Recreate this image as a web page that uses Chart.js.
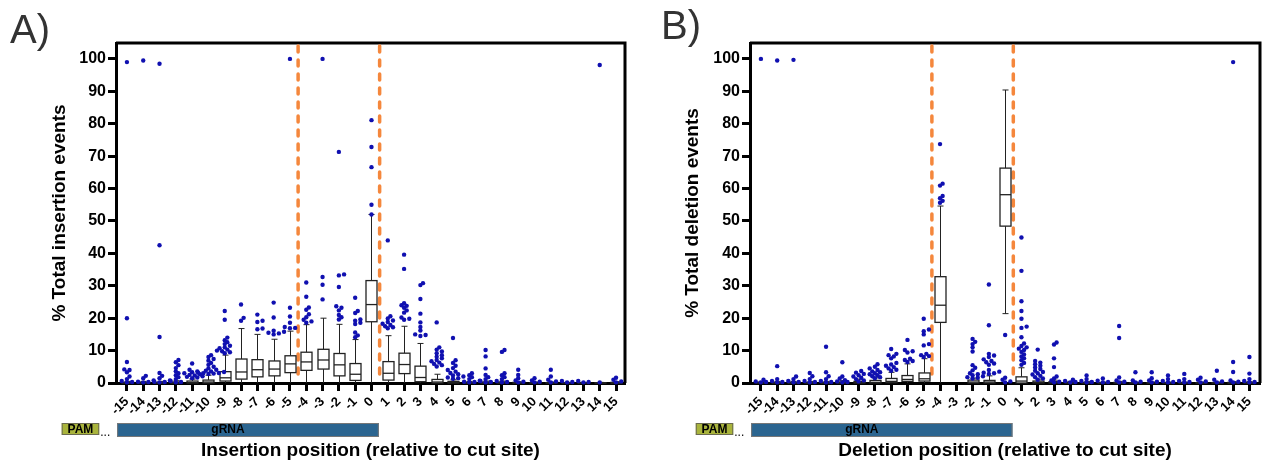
<!DOCTYPE html>
<html>
<head>
<meta charset="utf-8">
<script src="https://cdn.jsdelivr.net/npm/chart.js@4.4.0/dist/chart.umd.min.js"></script>
<style>
  html, body { margin: 0; padding: 0; background: #fff; }
  #wrap { position: relative; width: 1267px; height: 462px; overflow: hidden; }
  canvas { position: absolute; top: 0; }
  #insChart { left: 0; }
  #delChart { left: 633px; }
</style>
</head>
<body>
<div id="wrap">
  <canvas id="insChart" width="633" height="462"></canvas>
  <canvas id="delChart" width="634" height="462"></canvas>
</div>
<script>
// positions relative to cut site
const positions = [-15, -14, -13, -12, -11, -10, -9, -8, -7, -6, -5, -4, -3, -2, -1, 0,
  1, 2, 3, 4, 5, 6, 7, 8, 9, 10, 11, 12, 13, 14, 15]

// insertion box stats (% of total insertion events)
const insLow = [0, 0, 0, 0, 0, 0, 0, 0, 0, 0, 0, 0, 0, 0, 0, 0, 0, 0, 0, 0, 0, 0, 0, 0, 0, 0, 0, 0, 0, 0, 0]
const insQ1 = [0, 0, 0, 0, 0, 0, 0.6, 1.2, 1.9, 2.2, 3.2, 3.9, 4.3, 2.2, 0.8, 18.9, 0.9, 2.9, 0.4, 0, 0, 0, 0, 0, 0, 0, 0, 0, 0, 0, 0]
const insMed = [0, 0, 0, 0, 0.1, 0.3, 1.6, 3.4, 4.1, 4.3, 5.9, 6.5, 7.1, 5.6, 2.7, 24.2, 3.0, 5.7, 1.7, 0.3, 0.1, 0, 0, 0, 0, 0, 0, 0, 0, 0, 0]
const insQ3 = [0.2, 0.2, 0.2, 0.3, 0.6, 0.9, 3.5, 7.4, 7.2, 6.8, 8.4, 9.5, 10.4, 9.1, 6.0, 31.6, 6.6, 9.2, 5.2, 1.1, 0.5, 0.2, 0.3, 0.3, 0.2, 0.1, 0.1, 0.1, 0.1, 0.1, 0.2]
const insHigh = [0.5, 0.5, 0.5, 0.7, 1.2, 2.4, 8.6, 16.8, 15, 13.5, 16, 18, 20, 18.1, 13.4, 52, 14.6, 17.5, 12.2, 2.7, 1, 0.5, 0.6, 0.6, 0.4, 0.3, 0.3, 0.2, 0.2, 0.2, 0.4]
const insOutliers = [
  [99, 20, 6.5, 4.2, 4, 3.3, 2, 1.2, 0.6, 0.3, 0.2],
  [99.5, 2.2, 1.5, 0.8, 0.4, 0.3, 0.2],
  [98.5, 42.5, 14.2, 3.1, 2.2, 1.5, 0.8, 0.4, 0.3, 0.2],
  [7.1, 6.4, 5.5, 4.6, 3.6, 3, 2.4, 1.8, 1.2, 0.6, 0.3, 0.2],
  [6, 4.1, 3.6, 3.3, 3, 2.7, 2.5, 2.3, 2.1, 1.9, 1.7, 1.5],
  [8.6, 8, 7.4, 6.9, 6.2, 5.6, 5, 4.5, 4.1, 3.8, 3.6, 3.4, 3.2, 3.1, 3, 2.9, 2.8],
  [22.2, 19.5, 14, 13.2, 12.6, 12, 11.5, 11, 10.7, 10.3, 10, 9.8, 9.5, 9.2],
  [24.2, 20.1, 19.2],
  [21.1, 19.2, 18.8, 16.8, 16.6],
  [24.8, 20.2, 16.1, 15.8, 15.5, 15.3, 15],
  [100, 23.2, 20.5, 18.6, 17.3, 17, 16.9],
  [31, 26.6, 23.3, 22.6, 21.2, 20.3, 19.5, 19, 18.6],
  [100, 32.7, 30.3, 25.8],
  [71.3, 33.5, 33.2, 29.6, 23.7, 23.2, 22.4, 21, 20.3, 19.6],
  [26.3, 22.2, 21.6, 19.6, 19.2, 18.6, 18.2, 15.6, 14.7, 14.1],
  [81.1, 72.8, 66.6, 55, 52],
  [44, 20.6, 19.9, 19.3, 18.8, 18.3, 17.9, 17.5, 17.2, 16.9],
  [39.6, 35.2, 24.6, 24, 23.8, 23.2, 22.4, 21.7, 20.2, 19.8, 19.5],
  [30.8, 30.2, 25.9, 21.4, 18.7, 17.3, 16.2, 15, 14.8, 14.5],
  [18.7, 11, 10.3, 9.7, 9.2, 8.6, 8.1, 7.6, 7.1, 6.7, 6.3, 5.9, 5.5, 5.1],
  [13.9, 7, 6.2, 5.3, 4.6, 4, 3.5, 3.1, 2.7, 2.3, 2, 1.7, 1.5, 1.3],
  [3, 2.4, 1.8, 1.2, 0.7, 0.4, 0.3, 0.2],
  [10.2, 8.2, 4.5, 2.5, 1.8, 1.2, 0.6, 0.3, 0.2],
  [10.2, 9.6, 3, 2.4, 1.8, 1.2, 0.6, 0.3, 0.2],
  [4.1, 2.5, 1.5, 0.8, 0.4, 0.2],
  [1.5, 0.8, 0.4, 0.2],
  [4.1, 2, 1, 0.5, 0.2],
  [0.6, 0.3, 0.2],
  [0.6, 0.3, 0.2],
  [98.1, 0.2],
  [1.6, 1, 0.5, 0.2],
]

// deletion box stats (% of total deletion events), null = no data
const delLow = [0, 0, 0, 0, 0, 0, 0, 0, 0, 0, 0, 0, null, 0, 0, 21.4, 0, 0, 0, 0, 0, 0, 0, 0, 0, 0, 0, 0, 0, 0, 0]
const delQ1 = [0, 0, 0, 0, 0, 0, 0, 0, 0.1, 0.5, 0.6, 18.7, null, 0, 0, 48.4, 0, 0, 0, 0, 0, 0, 0, 0, 0, 0, 0, 0, 0, 0, 0]
const delMed = [0, 0, 0, 0, 0, 0, 0.1, 0.2, 0.5, 1.1, 1.3, 24, null, 0.3, 0.3, 58.1, 0.6, 0.2, 0.1, 0, 0, 0, 0, 0, 0, 0, 0, 0, 0, 0, 0]
const delQ3 = [0.2, 0.2, 0.2, 0.2, 0.2, 0.3, 0.5, 0.8, 1.4, 2.3, 3.1, 32.8, null, 0.9, 0.8, 66.3, 1.9, 0.6, 0.4, 0.2, 0.2, 0.1, 0.2, 0.1, 0.1, 0.1, 0.1, 0.1, 0.1, 0.2, 0.2]
const delHigh = [0.5, 0.5, 0.5, 0.5, 0.5, 0.7, 1.2, 1.6, 3.3, 5.9, 7.5, 54.6, null, 1.5, 2.2, 90.4, 4.7, 1.2, 0.9, 0.5, 0.5, 0.3, 0.5, 0.3, 0.3, 0.3, 0.3, 0.3, 0.3, 0.4, 0.4]
const delOutliers = [
  [100, 1, 0.5, 0.3, 0.2],
  [99.5, 5.2, 1.2, 0.6, 0.3, 0.2],
  [99.7, 2, 1.2, 0.6, 0.3, 0.2],
  [3.1, 2.1, 1.2, 0.6, 0.3, 0.2],
  [11.2, 3.3, 2.1, 1.2, 0.6, 0.3, 0.2],
  [6.4, 2, 1.4, 0.9, 0.5, 0.3, 0.2],
  [3.7, 3.2, 2.8, 2.4, 2, 1.6, 1.2, 0.8, 0.5],
  [5.8, 5, 4.5, 4, 3.6, 3.3, 3, 2.7, 2.4, 2.1, 1.8, 1.5],
  [10.5, 9, 8.6, 8.2, 7.6, 6.2, 5.7, 5.3, 4.9, 4.5, 4.1, 3.8],
  [13.3, 10.2, 9.8, 9.4, 7.5, 7.1, 6.8, 6.5],
  [19.8, 16.5, 16, 15, 12, 11.6, 9, 8.6, 8.3, 8],
  [73.7, 61.5, 60.9, 57.7, 57, 56.2, 55.6],
  [],
  [13.6, 12.7, 12, 11, 9.7, 5.5, 4.7, 3.9, 3, 2.7, 2.4, 2.1, 1.8, 1.6, 1.4],
  [30.4, 17.8, 9, 8.5, 8, 7.3, 6.8, 6.4, 6, 5.6, 4, 3.5, 3.2, 3, 2.8],
  [14.8, 1.6, 1, 0.5, 0.2],
  [44.9, 34.6, 25.2, 22.2, 19.8, 17.4, 17, 14.1, 12.2, 11.4, 11, 10.6, 10.2, 9.6, 8.8, 8.2, 7.6, 7, 6.2, 5.6],
  [10.3, 6.8, 6.3, 5.8, 5.3, 4.8, 4.3, 3.8, 3.4, 3, 2.6, 2.2, 1.8, 1.4, 1],
  [12.5, 11.9, 7.6, 4.9, 2, 1.4, 0.8, 0.4, 0.2],
  [1, 0.6, 0.3, 0.2],
  [2.3, 1.2, 0.6, 0.3, 0.2],
  [1.4, 0.7, 0.3, 0.2],
  [17.6, 13.9, 1.7, 0.8, 0.4, 0.2],
  [3.3, 0.8, 0.4, 0.2],
  [3.3, 1.5, 0.8, 0.4, 0.2],
  [2.3, 1.2, 0.6, 0.3, 0.2],
  [2.8, 1.2, 0.6, 0.3, 0.2],
  [1.6, 1, 0.5, 0.2],
  [3.8, 1, 0.5, 0.2],
  [99, 6.5, 3.4, 0.8, 0.4, 0.2],
  [8, 2.9, 1.2, 0.6, 0.3, 0.2],
]

// annotations (position units)
const cutLines = [-4.5, 0.5]
const pamSpan = [-19, -16.7]
const grnaSpan = [-15.6, 0.45]

const FONT = '"Liberation Sans", Arial, sans-serif'
const DOT_BLUE = '#1010b0'

// beeswarm spread of the outlier dots (pixel spacing -> position units)
const PX_X = 16.3
const PX_Y = 3.24
function swarm (outliers) {
  const pts = []
  outliers.forEach((vals, i) => {
    const placed = []
    vals.slice().sort((a, b) => a - b).forEach(v => {
      const py = v * PX_Y
      let off = 0
      for (let k = 0; k < 30; k++) {
        off = k === 0 ? 0 : (k % 2 ? 1 : -1) * Math.ceil(k / 2) * 2.6
        const hit = placed.some(p => (p.ox - off) ** 2 + (p.py - py) ** 2 < 3.1 * 3.1)
        if (!hit) break
      }
      placed.push({ ox: off, py })
      pts.push({ x: positions[i] + off / PX_X, y: v })
    })
  })
  return pts
}

const boxPlugin = {
  id: 'boxplot',
  beforeDatasetsDraw (chart, args, o) {
    const { ctx, chartArea: a, scales: { x, y } } = chart
    ctx.save()
    // frame top / right
    ctx.strokeStyle = '#000'
    ctx.lineWidth = 3
    ctx.beginPath()
    ctx.moveTo(a.left, a.top)
    ctx.lineTo(a.right, a.top)
    ctx.lineTo(a.right, a.bottom)
    ctx.stroke()

    // cut-site guides
    ctx.strokeStyle = '#f5873c'
    ctx.lineWidth = 3.5
    ctx.lineCap = 'round'
    ctx.setLineDash([6, 8])
    cutLines.forEach(c => {
      const px = x.getPixelForValue(c)
      ctx.beginPath()
      ctx.moveTo(px, a.top + 3)
      ctx.lineTo(px, a.bottom - 7)
      ctx.stroke()
    })
    ctx.setLineDash([])
    ctx.lineCap = 'butt'

    // boxes
    ctx.strokeStyle = '#222'
    positions.forEach((p, i) => {
      if (o.q1[i] == null) return
      const cx = Math.round(x.getPixelForValue(p)) + 0.5
      const yLo = y.getPixelForValue(o.low[i])
      const y1 = y.getPixelForValue(o.q1[i])
      const ym = y.getPixelForValue(o.med[i])
      const y3 = y.getPixelForValue(o.q3[i])
      const yHi = y.getPixelForValue(o.high[i])
      ctx.lineWidth = 1
      ctx.beginPath()
      ctx.moveTo(cx, y3); ctx.lineTo(cx, yHi)
      ctx.moveTo(cx - 3, yHi); ctx.lineTo(cx + 3, yHi)
      ctx.moveTo(cx, y1); ctx.lineTo(cx, yLo)
      if (o.low[i] > 0) { ctx.moveTo(cx - 3, yLo); ctx.lineTo(cx + 3, yLo) }
      ctx.stroke()
      ctx.lineWidth = 1.3
      ctx.fillStyle = '#fff'
      ctx.fillRect(cx - 5.5, y3, 11, y1 - y3)
      ctx.strokeRect(cx - 5.5, y3, 11, y1 - y3)
      ctx.beginPath()
      ctx.moveTo(cx - 5.5, ym); ctx.lineTo(cx + 5.5, ym)
      ctx.stroke()
    })
    ctx.restore()
  },
  afterDraw (chart, args, o) {
    const { ctx, scales: { x } } = chart
    ctx.save()
    // PAM and gRNA track
    const p0 = x.getPixelForValue(pamSpan[0])
    const p1 = x.getPixelForValue(pamSpan[1])
    ctx.fillStyle = '#a9b43c'
    ctx.strokeStyle = '#6b6b50'
    ctx.lineWidth = 1
    ctx.fillRect(p0, 423, p1 - p0, 12)
    ctx.strokeRect(p0 + 0.5, 423.5, p1 - p0 - 1, 11)
    const g0 = x.getPixelForValue(grnaSpan[0])
    const g1 = x.getPixelForValue(grnaSpan[1])
    ctx.fillStyle = '#2b6590'
    ctx.strokeStyle = '#777'
    ctx.fillRect(g0, 423, g1 - g0, 14)
    ctx.strokeRect(g0 + 0.5, 423.5, g1 - g0 - 1, 13)
    ctx.fillStyle = '#000'
    ctx.font = 'bold 12px ' + FONT
    ctx.textBaseline = 'middle'
    ctx.textAlign = 'center'
    ctx.fillText('PAM', (p0 + p1) / 2, 429.5)
    ctx.fillText('gRNA', x.getPixelForValue(-8.8), 430)
    ctx.textAlign = 'left'
    ctx.textBaseline = 'alphabetic'
    ctx.font = '12px ' + FONT
    ctx.fillText('...', p1 + 1, 436)
    // panel letter
    ctx.fillStyle = '#333'
    ctx.font = '40px ' + FONT
    ctx.fillText(o.letter, o.letterX, o.letterY)
    ctx.restore()
  }
}

function makeChart (id, opts) {
  const tickFont = { family: FONT, size: 16, weight: 'bold' }
  const titleFont = { family: FONT, size: 19, weight: 'bold' }
  return new Chart(document.getElementById(id), {
    type: 'scatter',
    data: {
      datasets: [{
        data: swarm(opts.outliers),
        pointRadius: 2.2,
        pointHoverRadius: 2.2,
        backgroundColor: DOT_BLUE,
        borderWidth: 0,
        clip: false,
      }],
    },
    plugins: [boxPlugin],
    options: {
      responsive: false,
      animation: false,
      events: [],
      layout: { padding: { top: 43, right: opts.padRight, left: 0, bottom: 0 } },
      plugins: {
        legend: { display: false },
        tooltip: { enabled: false },
        boxplot: {
          low: opts.low, q1: opts.q1, med: opts.med, q3: opts.q3, high: opts.high,
          letter: opts.letter, letterX: opts.letterX, letterY: opts.letterY,
        },
      },
      scales: {
        x: {
          type: 'linear',
          min: opts.xMin,
          max: opts.xMax,
          afterFit: s => { s.height = 79 },
          border: { color: '#000', width: 3 },
          grid: { drawOnChartArea: false, drawTicks: true, tickLength: 8, tickWidth: 3, tickColor: '#000' },
          ticks: {
            stepSize: 1, includeBounds: false, autoSkip: false,
            maxRotation: 45, minRotation: 45, padding: 3,
            color: '#000', font: { family: FONT, size: 13, weight: 'bold' },
            callback: v => String(v),
          },
          title: { display: true, text: opts.xTitle, color: '#000', font: titleFont, padding: { top: 0, bottom: 0 } },
        },
        y: {
          min: 0,
          max: 104.9,
          afterFit: s => { s.width = opts.yWidth },
          border: { color: '#000', width: 3 },
          grid: { drawOnChartArea: false, drawTicks: true, tickLength: 8, tickWidth: 3, tickColor: '#000' },
          ticks: { stepSize: 10, includeBounds: false, padding: 2, color: '#000', font: tickFont },
          title: { display: true, text: opts.yTitle, color: '#000', font: titleFont, padding: { top: 48, bottom: 0 } },
        },
      },
    },
  })
}

makeChart('insChart', {
  outliers: insOutliers, low: insLow, q1: insQ1, med: insMed, q3: insQ3, high: insHigh,
  xMin: -15.67, xMax: 15.55, padRight: 8, yWidth: 116,
  xTitle: 'Insertion position (relative to cut site)',
  yTitle: '% Total insertion events',
  letter: 'A)', letterX: 10, letterY: 43,
})

makeChart('delChart', {
  outliers: delOutliers, low: delLow, q1: delQ1, med: delMed, q3: delQ3, high: delHigh,
  xMin: -15.67, xMax: 15.65, padRight: 7, yWidth: 117,
  xTitle: 'Deletion position (relative to cut site)',
  yTitle: '% Total deletion events',
  letter: 'B)', letterX: 28, letterY: 39,
})
</script>
</body>
</html>
